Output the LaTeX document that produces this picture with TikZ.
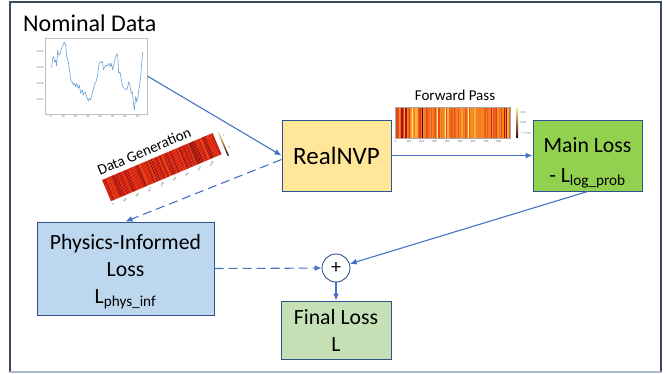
\documentclass[tikz,border=0pt]{standalone}
\usepackage{fontspec}
\setmainfont{Carlito}
\usetikzlibrary{arrows.meta,calc,positioning}

\definecolor{nvpyellow}{HTML}{FFE699}
\definecolor{maingreen}{HTML}{92D050}
\definecolor{physblue}{HTML}{BDD7EE}
\definecolor{finalgreen}{HTML}{C5E0B4}
\definecolor{boxline}{HTML}{2F528F}
\definecolor{arrowblue}{HTML}{4472C4}
\definecolor{framedark}{HTML}{3B4A63}
\definecolor{framelight}{HTML}{ADB9CA}
\definecolor{plotgray}{HTML}{BFBFBF}
\definecolor{plotblue}{HTML}{6AA2D8}
% heatmap colours (forward pass)
\definecolor{hm1}{HTML}{F7931E}
\definecolor{hm2}{HTML}{F58220}
\definecolor{hm3}{HTML}{F26B1D}
\definecolor{hm4}{HTML}{E8461E}
\definecolor{hm5}{HTML}{EE5A24}
\definecolor{hm6}{HTML}{D7261E}
\definecolor{hm7}{HTML}{A31515}
\definecolor{hm8}{HTML}{FBB03B}
\definecolor{hm9}{HTML}{FFE98A}
\definecolor{hm10}{HTML}{3A0A0A}
\definecolor{hm11}{HTML}{F47B20}
\definecolor{hm12}{HTML}{E33B1C}
\definecolor{hm13}{HTML}{F68A1F}
\definecolor{hm14}{HTML}{F58A22}
\definecolor{hm15}{HTML}{F9A030}
\definecolor{hm16}{HTML}{F26B1D}
\definecolor{hm17}{HTML}{F7931E}
\definecolor{hm18}{HTML}{EE5A24}
\definecolor{hm19}{HTML}{F47B20}
\definecolor{hm20}{HTML}{E8461E}
% heatmap colours (data generation)
\definecolor{dg1}{HTML}{D41E0A}
\definecolor{dg2}{HTML}{D8220C}
\definecolor{dg3}{HTML}{CC1A08}
\definecolor{dg4}{HTML}{C0160A}
\definecolor{dg5}{HTML}{B01208}
\definecolor{dg6}{HTML}{E02A0C}
\definecolor{dg7}{HTML}{941008}
\definecolor{dg8}{HTML}{E83A10}

\newcommand{\titlefont}{\fontsize{24}{28}\selectfont}
\newcommand{\nvpfont}{\fontsize{25}{28}\selectfont}
\newcommand{\boxfont}{\fontsize{21.7}{27}\selectfont}
\newcommand{\smallfont}{\fontsize{15}{18}\selectfont}
\newcommand{\plusfont}{\fontsize{20}{22}\selectfont}

\tikzset{
  lossbox/.style={draw=boxline, line width=1pt, align=center, inner sep=0pt, font=\boxfont},
  flow/.style={draw=arrowblue, line width=1.1pt, -{Latex[length=7pt,width=6pt]}},
  dflow/.style={flow, dash pattern=on 9pt off 5pt},
  ticklab/.style={font=\fontsize{3}{3.5}\selectfont, text=black!60, inner sep=0.3pt},
}

\begin{document}
\begin{tikzpicture}[x=1pt, y=-1pt]
% Canvas and frame
\useasboundingbox (0,0) rectangle (666,373);
\draw[draw=framedark, line width=1.2pt] (10,372) -- (10,2) -- (661,2) -- (661,372);
\draw[draw=framelight, line width=1.2pt] (10,372) -- (661,372);

% Nominal data
\node[anchor=base west, font=\titlefont, inner sep=0pt] (nomtitle) at (23,31) {Nominal Data};
\node[draw=plotgray, line width=0.6pt, minimum width=102pt, minimum height=76pt, inner sep=0pt] (nomplot) at (96,76) {};
\draw[plotblue, line width=0.6pt, line join=round] plot coordinates {
  (50.7,67.3) (51.7,66.7) (52.7,58.3) (53.7,56.7) (54.7,62.3) (55.7,60) (56.7,66) (57.7,50)
  (58.7,55) (60,54) (61,50) (62.3,46.7) (64.3,42.3) (65.7,45) (66.7,56.7) (68.3,61.7)
  (70,73.3) (71,81.7) (72.3,81.7) (73.3,85) (74.3,83.3) (75.7,86.7) (76.7,83.3) (78.3,88.3)
  (79.3,85) (80.7,93.3) (82.3,90) (83.3,95) (85,91.7) (86.7,96.7) (88.3,101) (89.3,98.3)
  (90.7,100) (92.3,93.3) (94,86.7) (95,83.3) (96,81.7) (97.3,76.7) (98.3,70) (99.3,63.3)
  (100.7,61.7) (101.7,62.7) (102.7,61.7) (103.3,70) (104.7,66.7) (106,65) (107.3,66) (109,63.3)
  (110.3,66.7) (111.3,63.3) (112.7,70) (114,63.3) (115.3,58.3) (116.7,54) (117.7,55) (118.7,73.3)
  (120,71.7) (121,78.3) (122.7,86.7) (124.3,88.3) (126,90) (127.3,88.3) (128.7,81.7) (130,86.7)
  (131.3,93.3) (132.3,91.7) (133.3,101.7) (134.3,110) (135.7,96.7) (136.7,101.7) (138,96.7)
  (139.3,86.7) (140.7,76.7) (141.7,63.3) (142.7,51.7)};
\foreach \v [count=\k from 0] in {0,10,...,70}
  \node[ticklab, anchor=north] at ({50.7+\k*12.37},115) {\v};
\foreach \v/\yy in {72.24/51.7, 72.23/67.3, 72.22/83.3, 72.21/100}
  \node[ticklab, anchor=east] at (44,\yy) {\v};

% Boxes
\node[lossbox, fill=nvpyellow, minimum width=109pt, minimum height=71pt, font=\nvpfont] (realnvp) at (336.5,155.5) {RealNVP};
\node[lossbox, fill=maingreen, minimum width=109pt, minimum height=71pt] (main) at (587.5,155.5)
  {\rule{0pt}{30pt}Main Loss\\[3pt] - L\textsubscript{log\_prob}};
\node[lossbox, fill=physblue, minimum width=177pt, minimum height=93pt] (phys) at (125.5,268.5)
  {\rule{0pt}{22pt}Physics-Informed\\ Loss\\ L\textsubscript{phys\_inf}};
\node[lossbox, fill=finalgreen, minimum width=110pt, minimum height=58pt] (final) at (336,330)
  {Final Loss\\ L};
\node[circle, draw=boxline, fill=white, line width=0.9pt, minimum size=28pt, inner sep=0pt, font=\plusfont] (plus) at (336,268) {+};

% Forward pass heatmap
\node[font=\smallfont, anchor=base] (fwdtitle) at (455,100) {Forward Pass};
\pgfmathsetseed{11}
\foreach \i in {0,...,89}{
  \pgfmathrandominteger{\hc}{1}{20}
  \fill[fill=hm\hc] ({395+\i*1.2778},107) rectangle ({395+(\i+1)*1.2778+0.1},138);
}
\draw[draw=black!35, line width=0.4pt] (395,107) rectangle (510,138);
\shade[top color=hm9, middle color=hm4, bottom color=hm10] (516,108) rectangle (518,137);
\foreach \v/\yy in {0.25/113, 0.00/123, {$-$0.25}/133}
  \node[ticklab, anchor=west] at (520,\yy) {\v};
\foreach \v [count=\k from 0] in {0,100,...,800}
  \node[ticklab, anchor=north] at ({395.7+\k*12.9},140) {\v};

% Data generation heatmap
\begin{scope}[shift={(102,180)}, rotate=23, transform shape]
  \pgfmathsetseed{5}
  \foreach \i in {0,...,99}{
    \pgfmathrandominteger{\hc}{1}{8}
    \fill[fill=dg\hc] ({\i*1.2},0) rectangle ({(\i+1)*1.2+0.1},23);
  }
  \node[font=\smallfont, anchor=base] (gentitle) at (50,-5) {Data Generation};
  \shade[top color=hm9, middle color=hm6, bottom color=hm10] (125,1) rectangle (126.5,27);
  \node[ticklab, anchor=west] at (128.5,6) {1};
  \node[ticklab, anchor=west] at (128.5,20) {0};
  \foreach \v [count=\k from 0] in {0,100,...,800}
    \node[ticklab, anchor=north east, rotate=35] at ({\k*13.5+1},25) {\v};
\end{scope}

% Connectors
\draw[flow] (nomplot.east) -- (realnvp.west);
\draw[dflow] ($(realnvp.west)+(0,4)$) -- (phys.north);
\draw[flow] (realnvp.east) -- (main.west);
\draw[flow] (main.south) -- (plus);
\draw[dflow] (phys.east) -- (plus);
\draw[flow] (plus) -- (final);
\end{tikzpicture}
\end{document}
